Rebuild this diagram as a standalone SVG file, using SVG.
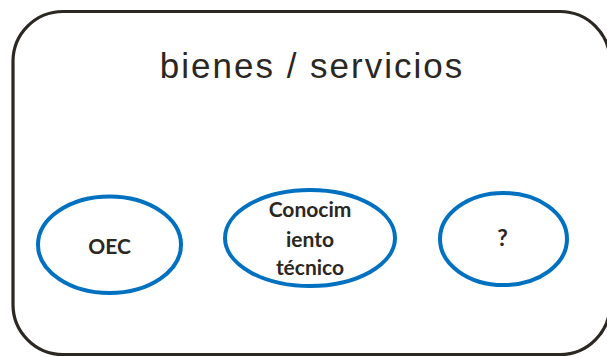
<svg xmlns="http://www.w3.org/2000/svg" width="607" height="357" viewBox="0 0 607 357">
<style>
.frame{fill:#ffffff;stroke:#2b2722;stroke-width:3.2}
.node ellipse{fill:#ffffff;stroke:#0070c0;stroke-width:4}
.lbl{font-family:Lato,"Open Sans","Liberation Sans",sans-serif;font-weight:bold;font-size:21px;fill:#2b2722;text-anchor:middle}
.title{font-family:"Liberation Sans",Arial,sans-serif;font-size:35px;fill:#2b2722;text-anchor:middle;letter-spacing:2px}
</style>
<rect width="607" height="357" fill="#ffffff"/>
<g id="container">
<rect class="frame" x="13" y="11.5" width="597" height="343" rx="50" ry="50"/>
<text class="title" x="312" y="78">bienes / servicios</text>
</g>
<g id="connectors"></g>
<g id="node-oec" class="node">
<ellipse cx="109.5" cy="244.7" rx="71.5" ry="48.3"/>
<text class="lbl" x="109.5" y="254">OEC</text>
</g>
<g id="node-conocimiento" class="node">
<ellipse cx="310" cy="238" rx="85" ry="48"/>
<text class="lbl" x="310" y="217">Conocim</text>
<text class="lbl" x="310" y="247">iento</text>
<text class="lbl" x="310" y="275">técnico</text>
</g>
<g id="node-q" class="node">
<ellipse cx="503.5" cy="239" rx="63.5" ry="46"/>
<text class="lbl" x="502.5" y="246" style="font-size:23px">?</text>
</g>
</svg>
